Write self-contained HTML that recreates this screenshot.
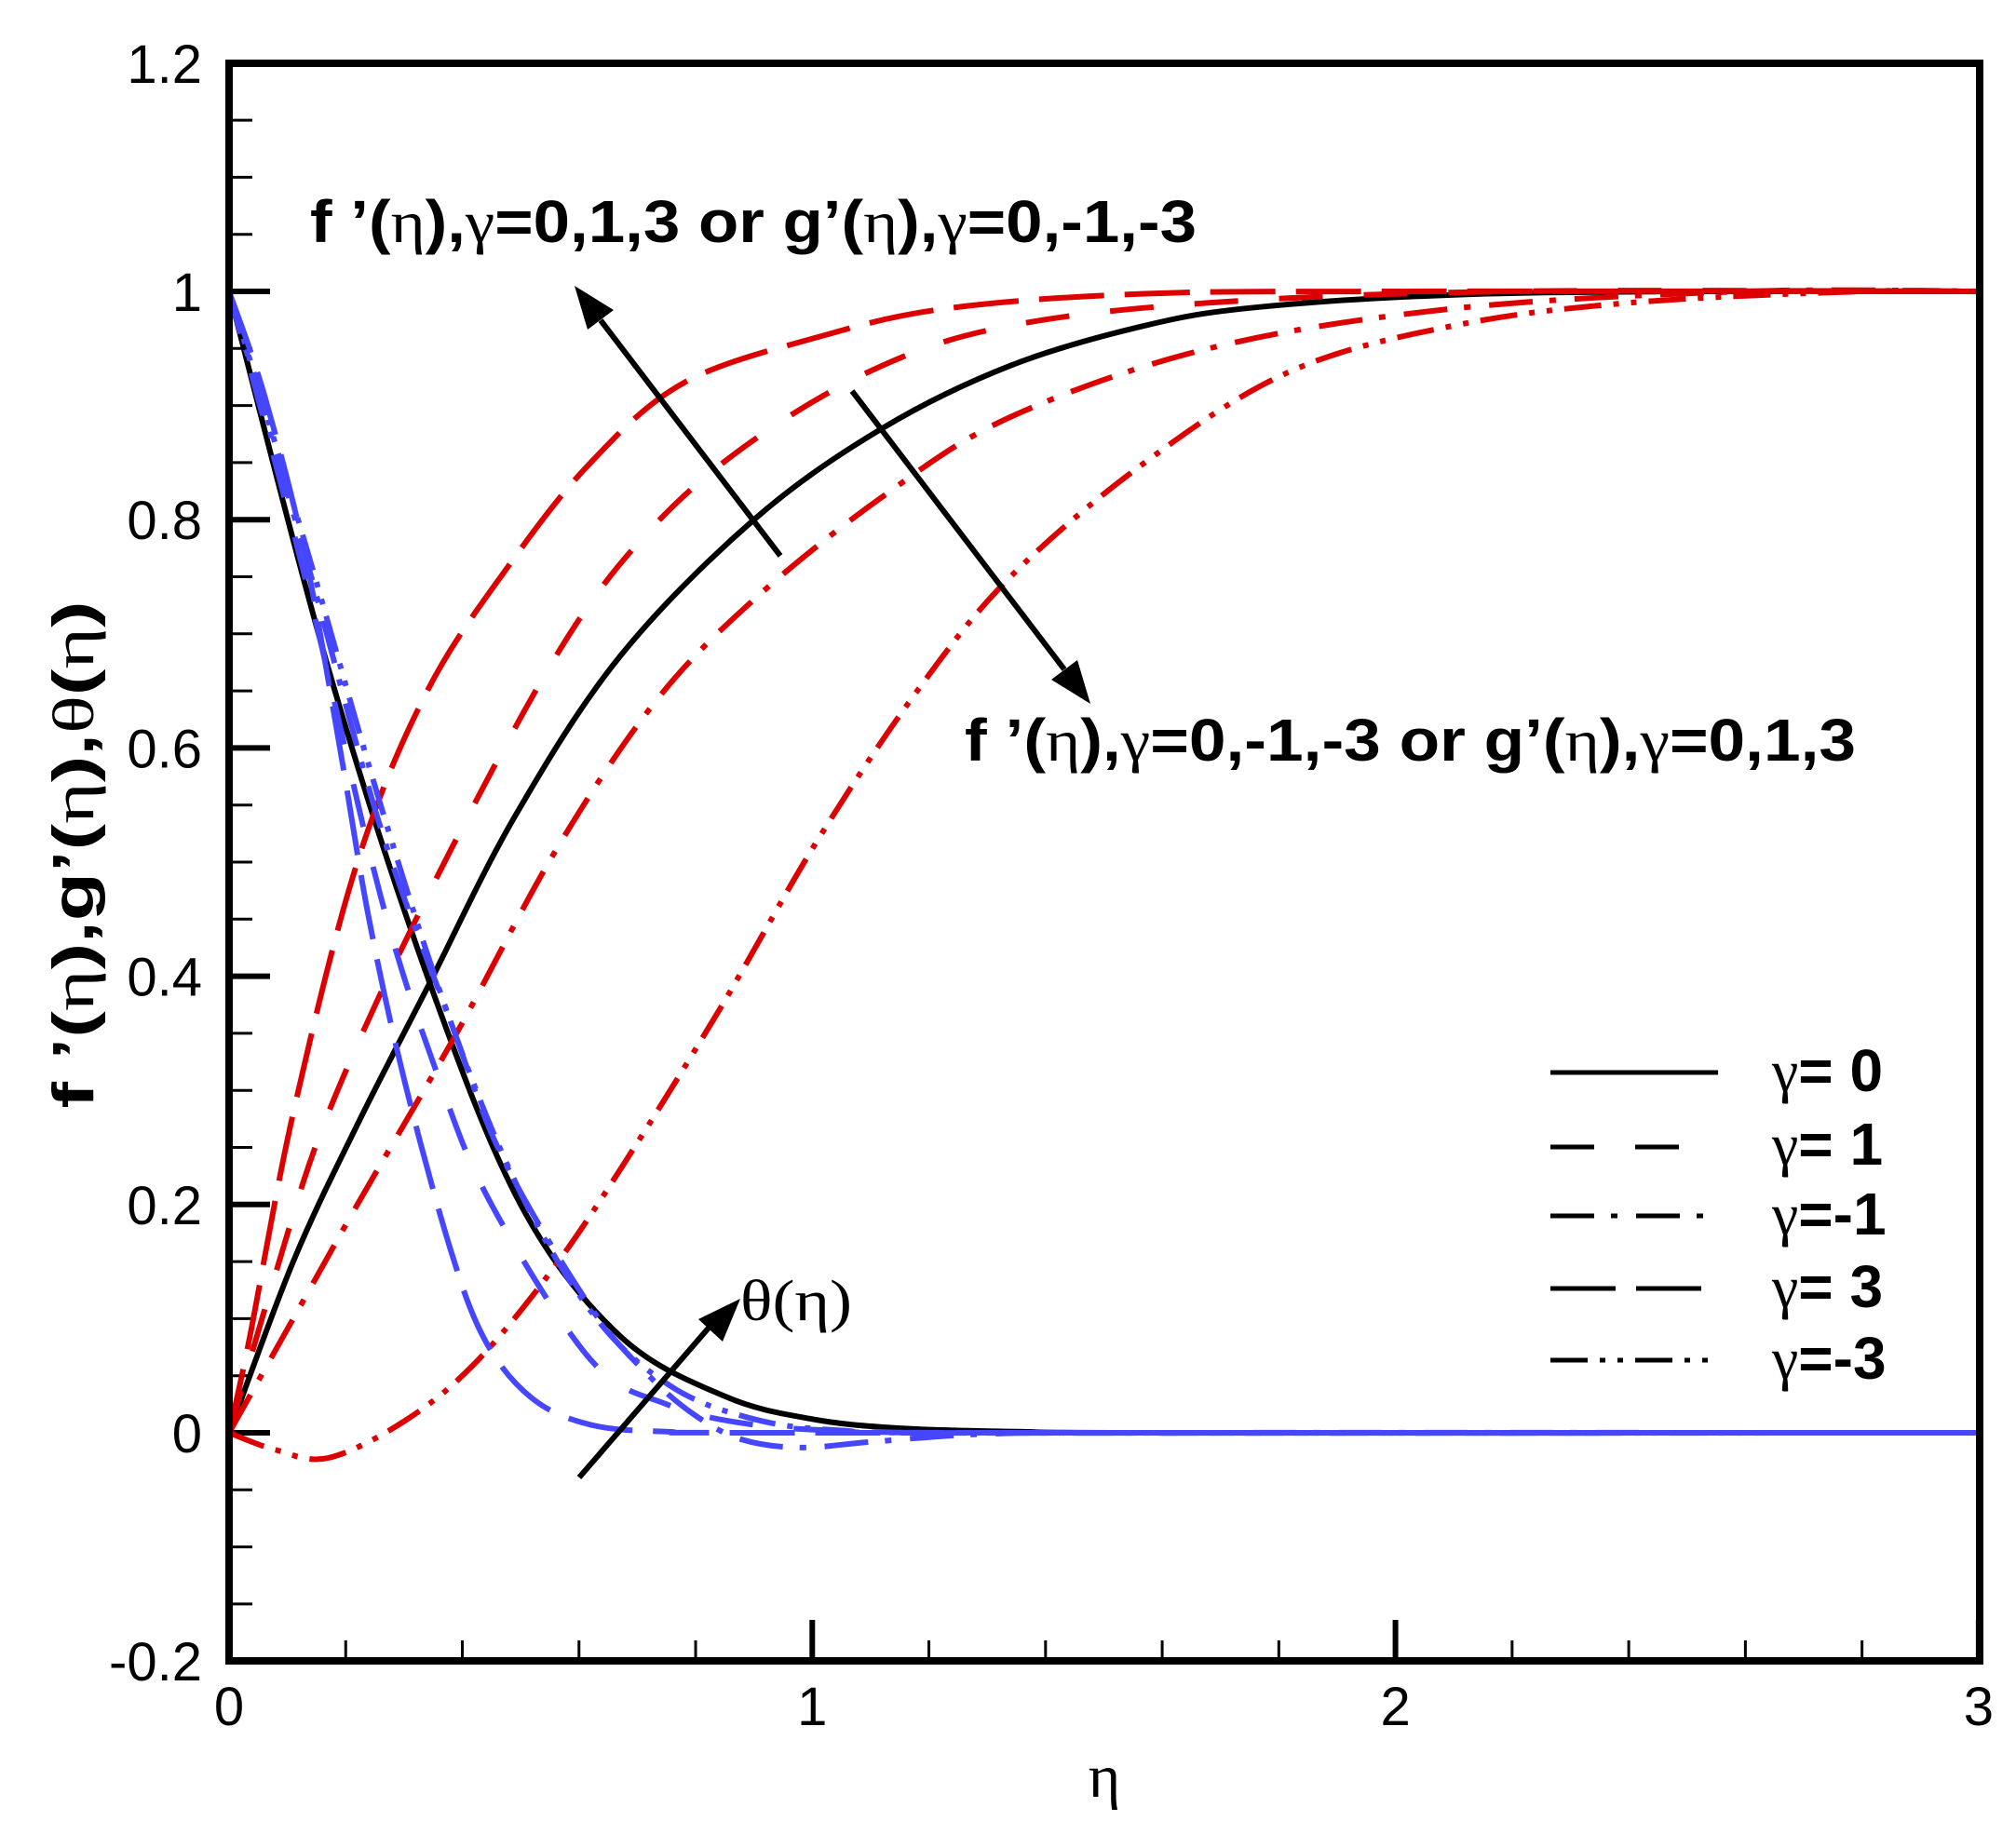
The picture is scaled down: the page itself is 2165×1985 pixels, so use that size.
<!DOCTYPE html>
<html><head><meta charset="utf-8"><style>
html,body{margin:0;padding:0;background:#fff;}
svg{display:block;}
</style></head><body>
<svg id="c" width="2165" height="1985" viewBox="0 0 2165 1985" xmlns="http://www.w3.org/2000/svg">
<rect x="0" y="0" width="2165" height="1985" fill="#fff"/>
<g id="ticks"></g>
<g id="curves" fill="none" stroke-width="6" stroke-linejoin="round"></g>
<rect x="246" y="68" width="1880" height="1716" fill="none" stroke="#000" stroke-width="8"/>
<g font-family="Liberation Sans, sans-serif" font-size="58" fill="#000" id="labels"></g>
<g stroke="#000" stroke-width="6" fill="#000">
<line x1="838" y1="597" x2="645" y2="344"/>
<polygon points="617,307 659,333 631,354" stroke="none"/>
<line x1="915" y1="420" x2="1143" y2="719"/>
<polygon points="1171,756 1129,730 1157,709" stroke="none"/>
<line x1="622" y1="1587" x2="763" y2="1424"/>
<polygon points="795,1395 776,1441 750,1417" stroke="none"/>
</g>
<text x="333" y="260" font-family="Liberation Sans, sans-serif" font-weight="bold" font-size="64" textLength="952" lengthAdjust="spacingAndGlyphs">f ’(<tspan font-family="Liberation Serif, serif" font-weight="normal">η</tspan>),<tspan font-family="Liberation Serif, serif" font-weight="normal">γ</tspan>=0,1,3 or g’(<tspan font-family="Liberation Serif, serif" font-weight="normal">η</tspan>),<tspan font-family="Liberation Serif, serif" font-weight="normal">γ</tspan>=0,-1,-3</text>
<text x="1036" y="817" font-family="Liberation Sans, sans-serif" font-weight="bold" font-size="64" textLength="957" lengthAdjust="spacingAndGlyphs">f ’(<tspan font-family="Liberation Serif, serif" font-weight="normal">η</tspan>),<tspan font-family="Liberation Serif, serif" font-weight="normal">γ</tspan>=0,-1,-3 or g’(<tspan font-family="Liberation Serif, serif" font-weight="normal">η</tspan>),<tspan font-family="Liberation Serif, serif" font-weight="normal">γ</tspan>=0,1,3</text>
<text x="795" y="1418" font-family="Liberation Serif, serif" font-size="62" textLength="120" lengthAdjust="spacingAndGlyphs">θ(η)</text>
<text transform="translate(100,918) rotate(-90)" text-anchor="middle" font-family="Liberation Sans, sans-serif" font-weight="bold" font-size="62" textLength="545" lengthAdjust="spacingAndGlyphs">f ’(<tspan font-family="Liberation Serif, serif" font-weight="normal">η</tspan>),g’(<tspan font-family="Liberation Serif, serif" font-weight="normal">η</tspan>),<tspan font-family="Liberation Serif, serif" font-weight="normal">θ</tspan>(<tspan font-family="Liberation Serif, serif" font-weight="normal">η</tspan>)</text>
<text x="1186" y="1930" text-anchor="middle" font-family="Liberation Serif, serif" font-size="66">η</text>
<g stroke="#000" stroke-width="5">
<line x1="1665" y1="1152" x2="1845" y2="1152"/>
<line x1="1665" y1="1232" x2="1845" y2="1232" stroke-dasharray="47 44"/>
<line x1="1665" y1="1306" x2="1845" y2="1306" stroke-dasharray="47 18 7 20"/>
<line x1="1665" y1="1384" x2="1845" y2="1384" stroke-dasharray="70 22"/>
<line x1="1665" y1="1461" x2="1845" y2="1461" stroke-dasharray="40 13 6 13 6 13"/>
</g>
<g font-family="Liberation Sans, sans-serif" font-weight="bold" font-size="64">
<text x="1903" y="1172"><tspan font-family="Liberation Serif, serif" font-weight="normal">γ</tspan>= 0</text>
<text x="1903" y="1251"><tspan font-family="Liberation Serif, serif" font-weight="normal">γ</tspan>= 1</text>
<text x="1903" y="1326"><tspan font-family="Liberation Serif, serif" font-weight="normal">γ</tspan>=-1</text>
<text x="1903" y="1404"><tspan font-family="Liberation Serif, serif" font-weight="normal">γ</tspan>= 3</text>
<text x="1903" y="1481"><tspan font-family="Liberation Serif, serif" font-weight="normal">γ</tspan>=-3</text>
</g>
</svg>
<script>
(function(){
var NS="http://www.w3.org/2000/svg";
function X(e){return 246+e*626.3;}
function Y(v){return 313+(1-v)*1226;}
function el(p,tag,attrs,txt){var e=document.createElementNS(NS,tag);for(var k in attrs)e.setAttribute(k,attrs[k]);if(txt!==undefined)e.textContent=txt;p.appendChild(e);return e;}
var tk=document.getElementById('ticks'),lb=document.getElementById('labels');
for(var i=0;i<=28;i++){var v=-0.2+i*0.05;var y=Y(v);var major=(i%4==0);
 el(tk,'line',{x1:246,y1:y,x2:246+(major?44:25),y2:y,stroke:'#000','stroke-width':major?6:3});}
var yl=['-0.2','0','0.2','0.4','0.6','0.8','1','1.2'];
for(var i=0;i<yl.length;i++){var v=-0.2+i*0.2;el(lb,'text',{x:217,y:Y(v)+21,'text-anchor':'end'},yl[i]);}
for(var i=0;i<=15;i++){var e=i*0.2;var x=X(e);var major=(i%5==0);
 el(tk,'line',{x1:x,y1:1784,x2:x,y2:1784-(major?44:22),stroke:'#000','stroke-width':major?6:3});}
for(var i=0;i<=3;i++)el(lb,'text',{x:X(i),y:1853,'text-anchor':'middle'},String(i));
function path(pts){var P=pts.map(function(p){return [X(p[0]),Y(p[1])];});
 var d='M'+P[0][0].toFixed(1)+','+P[0][1].toFixed(1);
 for(var i=0;i<P.length-1;i++){var p0=P[Math.max(0,i-1)],p1=P[i],p2=P[i+1],p3=P[Math.min(P.length-1,i+2)];
  var c1=[p1[0]+(p2[0]-p0[0])/6,p1[1]+(p2[1]-p0[1])/6],c2=[p2[0]-(p3[0]-p1[0])/6,p2[1]-(p3[1]-p1[1])/6];
  d+='C'+c1[0].toFixed(1)+','+c1[1].toFixed(1)+' '+c2[0].toFixed(1)+','+c2[1].toFixed(1)+' '+p2[0].toFixed(1)+','+p2[1].toFixed(1);}
 return d;}
var R='#dd0000',B='#4646ff',K='#000';
var D={s:'',d1:'47 44',dd:'47 18 7 20',d3:'70 22',ddd:'40 13 6 13 6 13'};
var cur=[
 [K,D.s,[[0,0],[0.11,0.15],[0.22,0.27],[0.34,0.39],[0.49,0.54],[0.67,0.68],[0.9,0.8],[1.12,0.88],[1.34,0.935],[1.57,0.97],[1.76,0.986],[2.1,0.997],[2.5,1],[3,1]]],
 [K,D.s,[[0,1],[0.17,0.67],[0.34,0.4],[0.5,0.2],[0.67,0.085],[0.85,0.032],[1.0,0.012],[1.15,0.004],[1.35,0.001],[1.6,0],[3,0]]],
 [R,D.d3,[[0,0],[0.034,0.08],[0.11,0.28],[0.22,0.5],[0.34,0.65],[0.48,0.76],[0.62,0.85],[0.78,0.92],[1.01,0.96],[1.23,0.985],[1.57,0.998],[2,1],[3,1]]],
 [R,D.d1,[[0,0],[0.08,0.14],[0.17,0.28],[0.34,0.47],[0.56,0.68],[0.72,0.79],[0.9,0.87],[1.12,0.935],[1.34,0.97],[1.68,0.99],[2.2,1],[3,1]]],
 [R,D.dd,[[0,0],[0.11,0.1],[0.22,0.2],[0.39,0.35],[0.56,0.51],[0.73,0.64],[0.9,0.73],[1.12,0.82],[1.34,0.89],[1.68,0.95],[2.1,0.985],[2.6,1],[3,1]]],
 [R,D.ddd,[[0,0],[0.08,-0.015],[0.17,-0.022],[0.3,0.01],[0.42,0.06],[0.55,0.14],[0.67,0.23],[0.84,0.37],[1.01,0.52],[1.18,0.65],[1.34,0.75],[1.57,0.85],[1.82,0.93],[2.1,0.97],[2.4,0.99],[2.8,1],[3,1]]],
 [B,D.d3,[[0,1],[0.06,0.91],[0.13,0.77],[0.19,0.6],[0.24,0.45],[0.3,0.31],[0.38,0.16],[0.44,0.08],[0.52,0.03],[0.62,0.007],[0.75,0.001],[1,0],[3,0]]],
 [B,D.d1,[[0,1],[0.13,0.75],[0.26,0.47],[0.36,0.31],[0.45,0.2],[0.62,0.064],[0.75,0.025],[0.9,0.007],[1.1,0.001],[1.4,0],[3,0]]],
 [B,D.dd,[[0,1],[0.13,0.77],[0.26,0.53],[0.38,0.36],[0.47,0.24],[0.62,0.11],[0.72,0.05],[0.8,0.015],[0.88,-0.006],[0.98,-0.013],[1.1,-0.008],[1.3,-0.001],[1.6,0],[3,0]]],
 [B,D.s,[[1.3,0],[3,0]]],
 [B,D.ddd,[[0,1],[0.13,0.78],[0.26,0.55],[0.38,0.36],[0.5,0.21],[0.63,0.1],[0.76,0.04],[0.9,0.012],[1.05,0.002],[1.3,0],[3,0]]]
];
var g=document.getElementById('curves');
cur.forEach(function(c){var a={d:path(c[2]),stroke:c[0]};if(c[1])a['stroke-dasharray']=c[1];el(g,'path',a);});
})();
</script>
</body></html>
